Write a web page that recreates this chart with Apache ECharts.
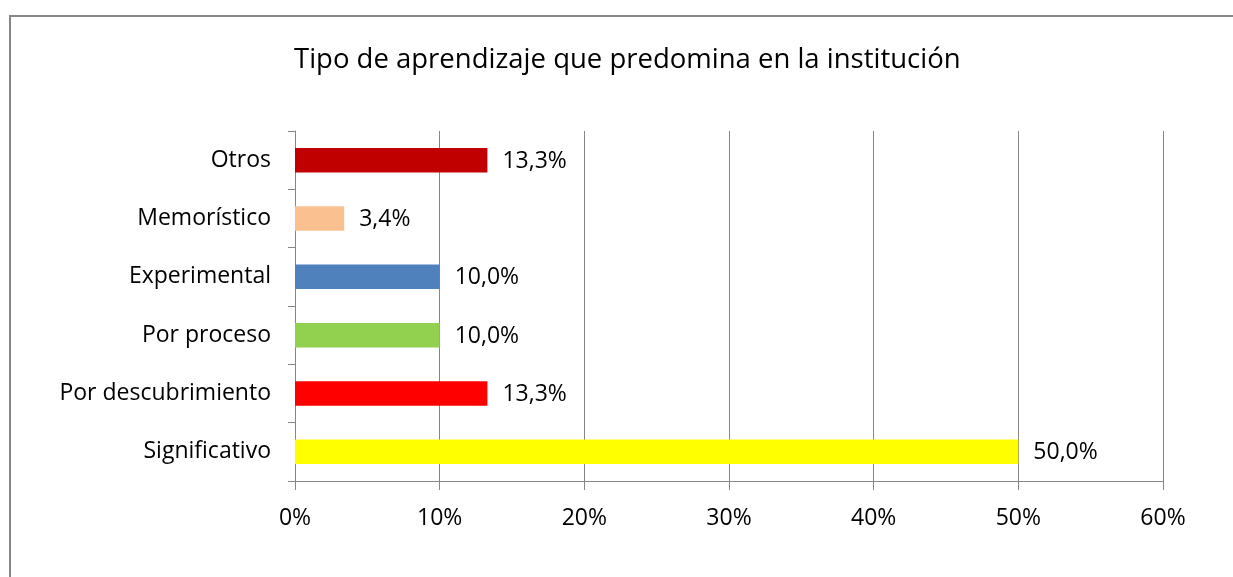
<!DOCTYPE html>
<html><head><meta charset="utf-8">
<script src="https://cdn.jsdelivr.net/npm/echarts@6/dist/echarts.min.js"></script>
<style>html,body{margin:0;padding:0;background:#fff}#c{width:1233px;height:577px}</style>
</head><body><div id="c"></div>
<script>
const titleText = 'Tipo de aprendizaje que predomina en la institución';
const categories = ['Significativo', 'Por descubrimiento', 'Por proceso', 'Experimental', 'Memorístico', 'Otros'];
const values = [50.0, 13.3, 10.0, 10.0, 3.4, 13.3];
const colors = ['#FFFF00', '#FF0000', '#92D050', '#4F81BD', '#FAC090', '#C00000'];
const tickMin = 0, tickMax = 60, tickStep = 10;

const FONT = '"Open Sans", sans-serif';
const chart = echarts.init(document.getElementById('c'), null, {renderer: 'canvas'});
chart.setOption({
  animation: false,
  backgroundColor: '#fff',
  title: {
    text: titleText, left: 289, top: 41,
    textStyle: {fontFamily: FONT, fontSize: 27.5, fontWeight: 'normal', color: '#000'}
  },
  graphic: [{
    type: 'rect', shape: {x: 10, y: 16, width: 1400, height: 800},
    style: {fill: 'none', stroke: '#878787', lineWidth: 2}, silent: true, z: 100
  }],
  grid: {left: 295, right: 70, top: 131, bottom: 96, containLabel: false},
  xAxis: {
    type: 'value', min: tickMin, max: tickMax, interval: tickStep,
    axisLine: {show: true, lineStyle: {color: '#868686', width: 1}},
    axisTick: {show: true, length: 9, lineStyle: {color: '#868686'}},
    splitLine: {show: true, lineStyle: {color: '#868686', width: 1}},
    axisLabel: {margin: 26, formatter: v => v + '%', fontFamily: FONT, fontSize: 23, color: '#000'}
  },
  yAxis: {
    type: 'category', data: categories,
    axisLine: {show: true, lineStyle: {color: '#868686', width: 1}},
    axisTick: {show: true, length: 7, lineStyle: {color: '#868686'}},
    axisLabel: {margin: 24, fontFamily: FONT, fontSize: 23, color: '#000'}
  },
  series: [{
    type: 'bar', barWidth: '42%',
    data: values.map((v, i) => ({value: v, itemStyle: {color: colors[i]}})),
    label: {
      show: true, position: 'right', distance: 15, offset: [0, 1],
      formatter: p => p.value.toFixed(1).replace('.', ',') + '%',
      fontFamily: FONT, fontSize: 23, color: '#000'
    }
  }]
});
</script></body></html>
